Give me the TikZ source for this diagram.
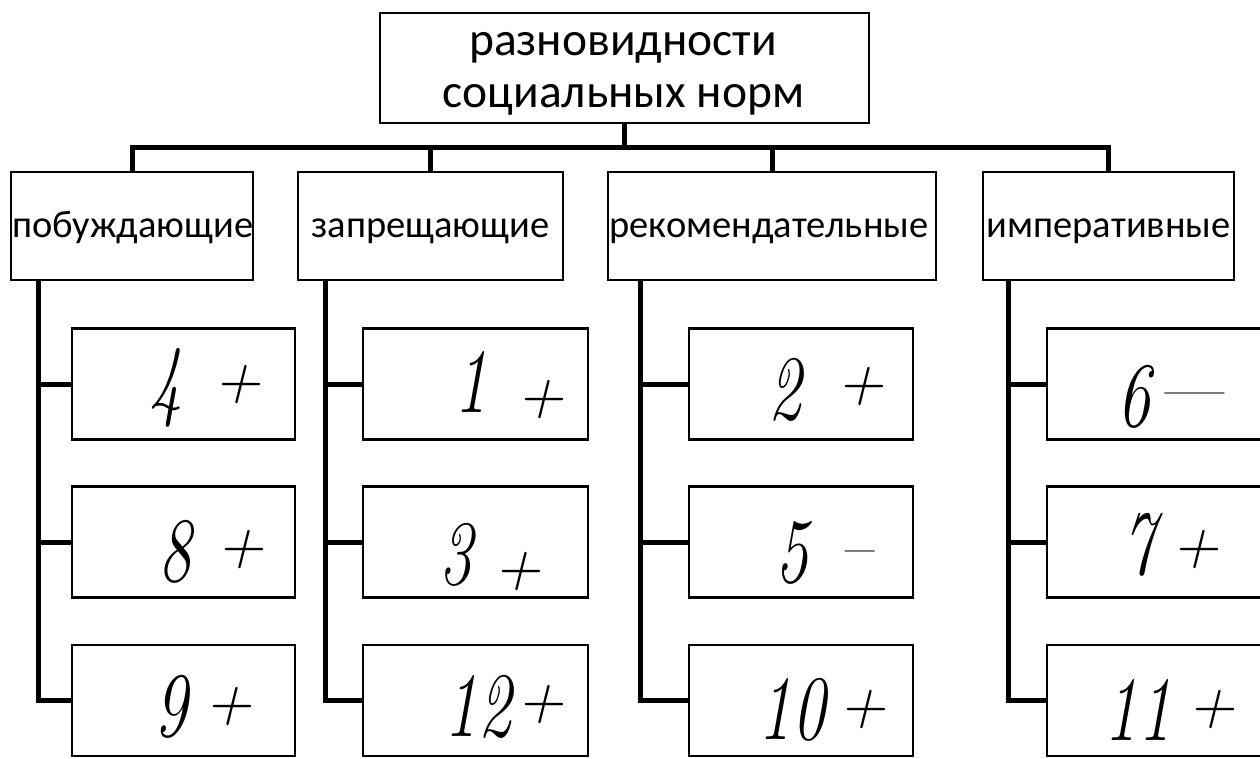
\documentclass[tikz,border=0pt]{standalone}
\usepackage{fontspec}
\setmainfont{Carlito}
\newfontfamily\hand{Latin Modern Roman}
\newcommand{\nrw}[1]{\scalebox{0.72}[1]{#1}}
\begin{document}
\begin{tikzpicture}[x=1pt,y=-1pt,
  box/.style={draw=black,line width=2.2pt,fill=white,inner sep=0pt,align=center},
  catbox/.style={box,minimum height=108pt,font=\fontsize{38.5}{46}\selectfont,text height=22pt,text depth=0pt},
  kid/.style={box,minimum height=111pt},
  ttl/.style={font=\fontsize{47.5}{52}\selectfont,inner sep=0pt,anchor=base},
  conn/.style={line width=5pt,line cap=rect},
  hw/.style={font=\hand\itshape\fontsize{92}{92}\selectfont,inner sep=0pt},
  sg/.style={font=\hand\itshape\fontsize{64}{64}\selectfont,inner sep=0pt},
  dsh/.style={font=\hand\fontsize{64}{64}\selectfont,inner sep=0pt,anchor=base}]
\useasboundingbox (0,0) rectangle (1260,758);
% top
\node[box,minimum width=489pt,minimum height=110pt] (top) at (624.5,68) {};
\node[ttl] (t1) at (623,55) {разновидности};
\node[ttl] (t2) at (623.5,107) {социальных норм};
% categories
\node[catbox,minimum width=238pt] (c1) at (132,226) {\hspace*{1.5pt}побуждающие};
\node[catbox,minimum width=265pt] (c2) at (430.5,226) {запрещающие};
\node[catbox,minimum width=328pt] (c3) at (772,226) {\hspace*{-6pt}рекомендательные};
\node[catbox,minimum width=251pt] (c4) at (1108.5,226) {императивные};
% children
\foreach \c/\x/\w in {1/183.5/223,2/475.5/225,3/801/224,4/1160/226}{
  \node[kid,minimum width=\w pt] (k\c1) at (\x,384) {};
  \node[kid,minimum width=\w pt] (k\c2) at (\x,542) {};
  \node[kid,minimum width=\w pt] (k\c3) at (\x,700.5) {};
}
% connectors
\coordinate (bus) at (0,147);
\draw[conn] (top.south) -- (top.south |- bus);
\draw[conn] (c1.north) -- (c1.north |- bus) -| (c4.north);
\draw[conn] (c2.north |- bus) -- (c2.north);
\draw[conn] (c3.north |- bus) -- (c3.north);
\coordinate (s1) at (38,0);
\coordinate (s2) at (325,0);
\coordinate (s3) at (640,0);
\coordinate (s4) at (1008,0);
\foreach \c in {1,2,3,4}{
  \draw[conn] (s\c |- c\c.south) |- (k\c3.west);
  \draw[conn] (s\c |- k\c1.west) -- (k\c1.west);
  \draw[conn] (s\c |- k\c2.west) -- (k\c2.west);
}
% handwritten marks
\node[hw] (d11) at (166,388) {\nrw{4}};  \node[sg] (p11) at (237,385) {+};
\node[hw] (d12) at (175,552) {\nrw{8}};  \node[sg] (p12) at (240,550) {+};
\node[hw] (d13) at (171,707) {\nrw{9}};  \node[sg] (p13) at (228,707) {+};
\node[hw] (d21) at (471,382) {\nrw{1}};  \node[sg] (p21) at (540,400) {+};
\node[hw] (d22) at (456,555) {\nrw{3}};  \node[sg] (p22) at (517,572) {+};
\node[hw] (d23) at (478,707) {\nrw{12}}; \node[sg] (p23) at (540,705) {+};
\node[hw] (d31) at (785,390) {\nrw{2}};  \node[sg] (p31) at (860,387) {+};
\node[hw] (d32) at (792,553) {\nrw{5}};  \node[dsh] (p32) at (860,568) {\textendash};
\node[hw] (d33) at (792,710) {\nrw{10}}; \node[sg] (p33) at (862,710) {+};
\node[hw] (d41) at (1134,397) {\nrw{6}}; \node[dsh] (p41) at (1195,410) {\textemdash};
\node[hw] (d42) at (1139,545) {\nrw{7}}; \node[sg] (p42) at (1195,550) {+};
\node[hw] (d43) at (1138,710) {\nrw{11}};\node[sg] (p43) at (1211,710) {+};
\end{tikzpicture}
\end{document}
